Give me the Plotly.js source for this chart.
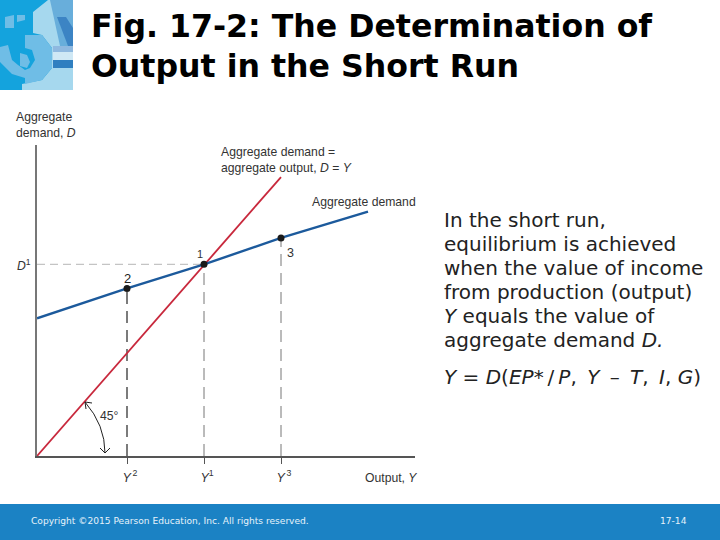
<!DOCTYPE html>
<html><head><meta charset="utf-8">
<script src="https://cdn.plot.ly/plotly-3.0.1.min.js"></script>
<style>html,body{margin:0;padding:0;background:#fff}</style></head>
<body><div id="chart" style="width:720px;height:540px"></div>
<script>
// Economic diagram values (output Y and demand D, same units)
const lineOutput = [0, 244];
const lineDemandEq = [0, 243];
const demandOutput = [0, 90, 167, 244, 331];
const demandValues = [120, 146, 167, 190, 213];
const pointOutput = [90, 167, 244];
const pointDemand = [146, 167, 190];
const pointNames = ['2', '1', '3'];
const yTickVals = [90, 167, 244];
const yTickText = ['<i>Y</i><sup>\u20092</sup>', '<i>Y</i><sup>1</sup>', '<i>Y</i><sup>\u20093</sup>'];
const bodyLines = ['In the short run,', 'equilibrium is achieved', 'when the value of income', 'from production (output)', '<i>Y</i> equals the value of', 'aggregate demand <i>D.</i>'];
const equation = '<i>Y</i> = <i>D</i>(<i>EP</i>*\u2009/\u2009<i>P</i>,\u2009 <i>Y</i>\u2009 –\u2009 <i>T</i>, \u2009<i>I</i>, <i>G</i>)';
const titleLines = ['<b>Fig. 17-2: The Determination of</b>', '<b>Output in the Short Run</b>'];

const W=378,H=311,OX=37,OY=456,XMAX=378,YMAX=271;
const px=x=>(x-OX)/W, py=y=>(OY-y)/H;
const dash=(x0,y0,x1,y1,color,width,d)=>({x:[x0,x1],y:[y0,y1],mode:'lines',line:{color,width,dash:d},hoverinfo:'skip'});
const traces=[
 dash(0,167,167,167,'#c4c4c4',1.3,'8px,5px'),
 dash(90,0,90,146,'#444',1.4,'12px,7px'),
 dash(167,0,167,167,'#777',1,'12px,7px'),
 dash(244,0,244,190,'#777',1,'12px,7px'),
 {x:lineOutput,y:lineDemandEq,mode:'lines',line:{color:'#c8283c',width:1.8},hoverinfo:'skip'},
 {x:demandOutput,y:demandValues,mode:'lines',line:{color:'#1c5a9c',width:2.4},hoverinfo:'skip'},
 {x:pointOutput,y:pointDemand,mode:'markers',marker:{color:'#1a1a1a',size:7},text:pointNames,hoverinfo:'skip'}
];
const LAB={family:'Liberation Sans',size:12.2,color:'#333'};
const txt=(x,y,text,o={})=>Object.assign({xref:'paper',yref:'paper',x:px(x),y:py(y),text,showarrow:false,xanchor:'left',yanchor:'middle',align:'left',borderpad:0,borderwidth:0,font:LAB},o);
const rect=(x0,y0,x1,y1,c)=>({type:'rect',xref:'paper',yref:'paper',layer:'below',x0:px(x0),x1:px(x1),y0:py(y0),y1:py(y1),fillcolor:c,line:{width:0}});
const poly=(pts,c)=>({type:'path',xref:'paper',yref:'paper',layer:'below',path:'M'+pts.map(p=>px(p[0])+','+py(p[1])).join('L')+'Z',fillcolor:c,line:{width:0}});
const curve=(d,c)=>({type:'path',xref:'paper',yref:'paper',layer:'above',path:d,line:{color:c,width:1}});
const B=(x,y)=>px(x)+','+py(y);

const shapes=[
 rect(0,504,720,540,'#1b82c4'),
 rect(0,0,73,90,'#14a3dd'),
 poly([[33,12],[48,0],[73,0],[73,90],[22,90],[22,84],[42,80],[52,68],[52,48],[42,35],[33,33]],'#a6d8ee'),
 poly([[50,0],[73,0],[73,46],[60,46]],'#68aedb'),
 poly([[57,17],[66,17],[73,28],[73,46],[68,46]],'#3c84c4'),
 poly([[25,35],[42,35],[52,48],[52,68],[42,80],[25,84],[25,70],[30,68],[35,60],[32,50],[25,48]],'#6fbde6'),
 poly([[5,17],[14,15],[14,28],[5,28]],'#6fbde6'),
 poly([[17,15],[25,15],[25,20],[17,22]],'#6fbde6'),
 poly([[0,47],[8,45],[12,60],[18,65],[25,70],[25,78],[12,74],[0,62]],'#6fbde6'),
 poly([[20,53],[27,55],[30,62],[27,68],[20,66]],'#6fbde6'),
 rect(53,46,73,52,'#8fb9e0'),
 rect(53,52,73,60,'#cfe8f5'),
 rect(53,60,73,68,'#2f7fc0'),
 curve('M'+B(85,402)+'Q'+B(105,425)+' '+B(105,453),'#222'),
 curve('M'+B(85,402)+'L'+B(92,403),'#222'),
 curve('M'+B(85,402)+'L'+B(86,409),'#222'),
 curve('M'+B(105,453)+'L'+B(100,448),'#222'),
 curve('M'+B(105,453)+'L'+B(110,448),'#222')
];
const BODY={family:'DejaVu Sans',size:20,color:'#222'};
const FOOT={family:'DejaVu Sans',size:9.1,color:'#e6f2fa'};
const TITLE={family:'DejaVu Sans',size:31.6,color:'#000'};
const annotations=[
 txt(16,124.5,'Aggregate<br>demand, <i>D</i>'),
 txt(221,159.5,'Aggregate demand =<br>aggregate output, <i>D</i> = <i>Y</i>'),
 txt(312,202,'Aggregate demand'),
 txt(17,265,'<i>D</i><sup>1</sup>'),
 txt(124,278,pointNames[0],{font:{family:'Liberation Sans',size:13,color:'#222'}}),
 txt(197,254,pointNames[1],{font:{family:'Liberation Sans',size:11,color:'#333'}}),
 txt(287,253,pointNames[2],{font:{family:'Liberation Sans',size:12.5,color:'#333'}}),
 txt(100,416,'45°'),
 txt(365,478,'Output, <i>Y</i>'),
 txt(31,521,'Copyright ©2015 Pearson Education, Inc. All rights reserved.',{font:FOOT}),
 txt(660,521,'17-14',{font:FOOT}),
 txt(444,377,equation,{font:BODY}),
 txt(91,26,titleLines[0],{font:TITLE}),
 txt(91,66,titleLines[1],{font:TITLE})
];
bodyLines.forEach((t,i)=>annotations.push(txt(444,220+24*i,t,{font:BODY})));

const layout={
 width:720,height:540,showlegend:false,paper_bgcolor:'#fff',plot_bgcolor:'#fff',
 margin:{l:OX,r:720-OX-W,t:OY-H,b:540-OY,pad:0},
 xaxis:{range:[0,XMAX],showgrid:false,zeroline:false,showline:true,linecolor:'#555',linewidth:1.6,
   tickmode:'array',tickvals:yTickVals,ticktext:yTickText,ticks:'outside',ticklen:6,tickcolor:'#555',
   ticklabelstandoff:3,ticklabelshift:3,
   tickfont:{family:'Liberation Sans',size:12.5,color:'#333'}},
 yaxis:{range:[0,YMAX],showgrid:false,zeroline:false,showline:true,linecolor:'#777',linewidth:1.6,showticklabels:false,ticks:''},
 shapes,annotations
};
Plotly.newPlot('chart',traces,layout,{displayModeBar:false,staticPlot:true});
</script></body></html>
